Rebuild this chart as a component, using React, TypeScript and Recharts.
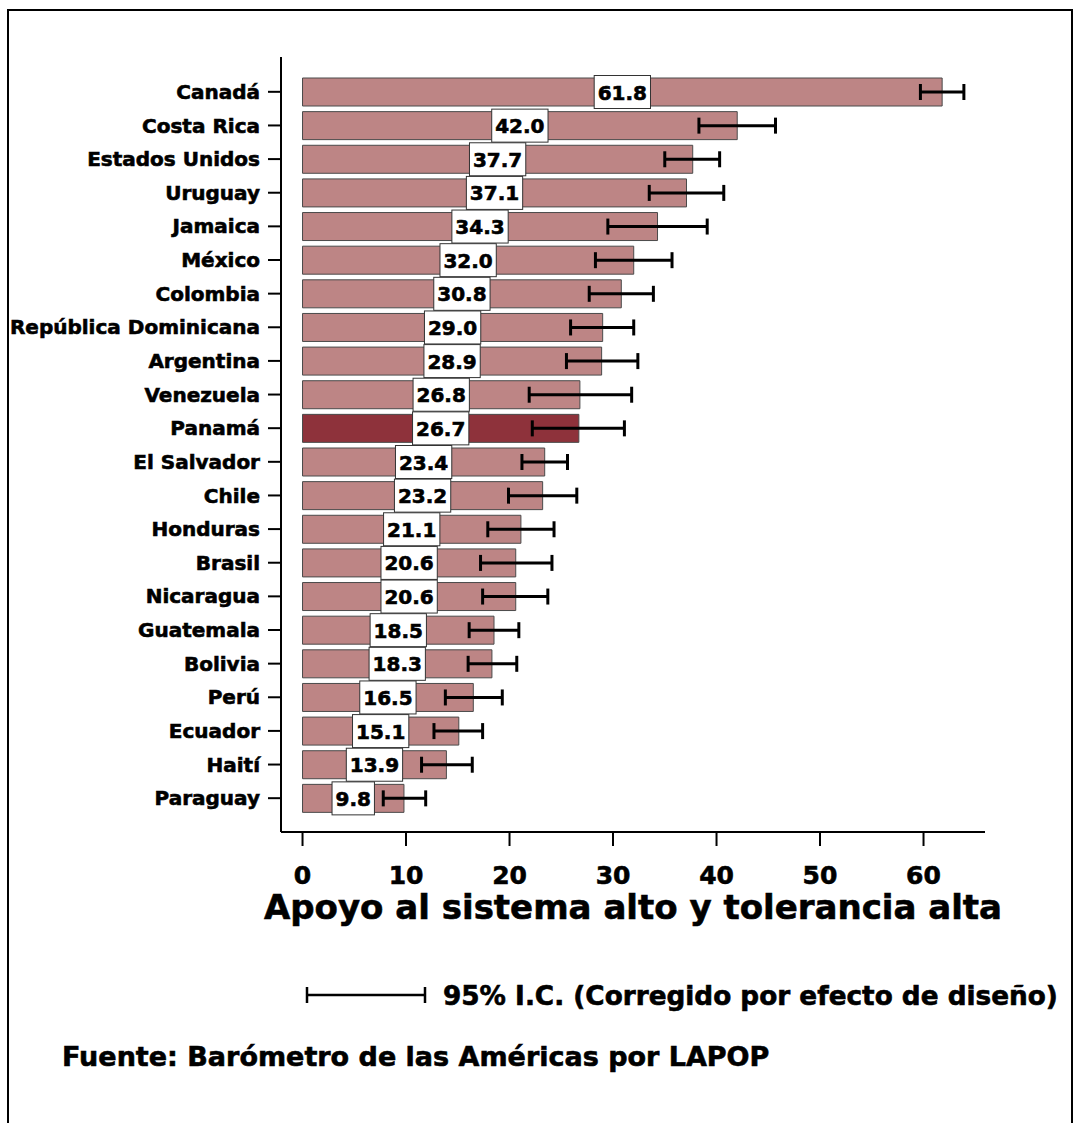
import React from "react";
import { BarChart, Bar, XAxis, YAxis, ErrorBar, LabelList, Cell } from "recharts";

const countries = [
  "Canadá", "Costa Rica", "Estados Unidos", "Uruguay", "Jamaica", "México",
  "Colombia", "República Dominicana", "Argentina", "Venezuela", "Panamá",
  "El Salvador", "Chile", "Honduras", "Brasil", "Nicaragua", "Guatemala",
  "Bolivia", "Perú", "Ecuador", "Haití", "Paraguay",
];
const values = [
  61.8, 42.0, 37.7, 37.1, 34.3, 32.0, 30.8, 29.0, 28.9, 26.8, 26.7,
  23.4, 23.2, 21.1, 20.6, 20.6, 18.5, 18.3, 16.5, 15.1, 13.9, 9.8,
];
// 95% CI bounds
const ciLow = [
  59.7, 38.3, 35.0, 33.5, 29.5, 28.3, 27.7, 25.9, 25.5, 21.9, 22.2,
  21.2, 19.9, 17.9, 17.2, 17.4, 16.1, 16.0, 13.8, 12.7, 11.5, 7.8,
];
const ciHigh = [
  63.9, 45.7, 40.3, 40.7, 39.1, 35.7, 33.9, 32.0, 32.4, 31.8, 31.1,
  25.6, 26.5, 24.3, 24.1, 23.7, 20.9, 20.7, 19.3, 17.4, 16.4, 11.9,
];
const highlight = "Panamá";
const xTicks = [0, 10, 20, 30, 40, 50, 60];

const FONT = "'DejaVu Sans', Verdana, sans-serif";
const BAR = "#bd8585";
const BAR_HI = "#8e323b";
// thin outline so the bold face reads as heavy as the original
const heavy = { stroke: "#000", strokeWidth: 0.6 };

const data = countries.map((name, i) => ({
  name,
  value: values[i],
  ci: [+(values[i] - ciLow[i]).toFixed(2), +(ciHigh[i] - values[i]).toFixed(2)],
}));

// white boxed value label, centred on the middle of the bar
const ValueBox = (props: any) => {
  const { x, y, width, height, value } = props;
  const text = Number(value).toFixed(1);
  const textW = text.split("").reduce((s: number, c: string) => s + (c === "." ? 7.6 : 13.9), 0);
  const w = textW + 7;
  const cx = x + width / 2;
  const cy = y + height / 2;
  return (
    <g>
      <rect x={cx - w / 2} y={cy - 16.5} width={w} height={33} fill="#fff" stroke="#333" strokeWidth={1} />
      <text
        x={cx}
        y={cy + 7.5}
        textAnchor="middle"
        fontFamily={FONT}
        fontWeight="bold"
        fontSize={20}
        fill="#000"
        {...heavy}
      >
        {text}
      </text>
    </g>
  );
};

export default function App() {
  return (
    <div style={{ position: "relative", width: 1059, height: 1107, fontFamily: FONT }}>
      <style>{"html{overflow:hidden}"}</style>
      <div style={{ position: "absolute", left: 0, top: 0 }}>
        <BarChart
          width={1059}
          height={924}
          data={data}
          layout="vertical"
          margin={{ top: 49, right: 82, bottom: 0, left: 0 }}
        >
          <XAxis
            type="number"
            domain={[-2.08, 65.94]}
            ticks={xTicks}
            allowDataOverflow
            tickSize={14}
            tickMargin={20}
            height={100}
            axisLine={{ stroke: "#000", strokeWidth: 2 }}
            tickLine={{ stroke: "#000", strokeWidth: 2 }}
            tick={{ fill: "#000", fontSize: 25, fontWeight: "bold", fontFamily: FONT, ...heavy }}
            label={{
              value: "Apoyo al sistema alto y tolerancia alta",
              position: "insideBottom",
              offset: 13,
              style: { fill: "#000", fontSize: 34, fontWeight: "bold", fontFamily: FONT, ...heavy },
            }}
          />
          <YAxis
            type="category"
            dataKey="name"
            width={273}
            padding={{ top: 18, bottom: 17 }}
            tickSize={13}
            tickMargin={8}
            interval={0}
            axisLine={{ stroke: "#000", strokeWidth: 2 }}
            tickLine={{ stroke: "#000", strokeWidth: 2 }}
            tick={{ fill: "#000", fontSize: 20, fontWeight: "bold", fontFamily: FONT, ...heavy }}
          />
          <Bar dataKey="value" barSize={28} stroke="#4a4a4a" strokeWidth={1} isAnimationActive={false}>
            {data.map((d) => (
              <Cell key={d.name} fill={d.name === highlight ? BAR_HI : BAR} />
            ))}
            <LabelList dataKey="value" content={<ValueBox />} />
            <ErrorBar dataKey="ci" direction="x" width={8} stroke="#000" strokeWidth={3} isAnimationActive={false} />
          </Bar>
        </BarChart>
      </div>

      {/* CI legend and source note */}
      <svg
        width={1059}
        height={1107}
        style={{ position: "absolute", left: 0, top: 0, pointerEvents: "none" }}
      >
        <g stroke="#000" strokeWidth={2.5}>
          <line x1={299} y1={987} x2={417} y2={987} />
          <line x1={299} y1={979} x2={299} y2={995} />
          <line x1={417} y1={979} x2={417} y2={995} />
        </g>
        <text x={435} y={997} fontFamily={FONT} fontWeight="bold" fontSize={26.3} fill="#000" {...heavy}>
          95% I.C. (Corregido por efecto de diseño)
        </text>
        <text x={54} y={1058} fontFamily={FONT} fontWeight="bold" fontSize={27} fill="#000" {...heavy}>
          Fuente: Barómetro de las Américas por LAPOP
        </text>
      </svg>

      {/* outer frame, open at the bottom, pinned to the viewport */}
      <div
        style={{
          position: "fixed",
          left: 7,
          top: 9,
          width: 1066,
          height: 1200,
          boxSizing: "border-box",
          borderTop: "2.5px solid #000",
          borderLeft: "2.5px solid #000",
          borderRight: "2.5px solid #000",
          pointerEvents: "none",
        }}
      />
    </div>
  );
}
